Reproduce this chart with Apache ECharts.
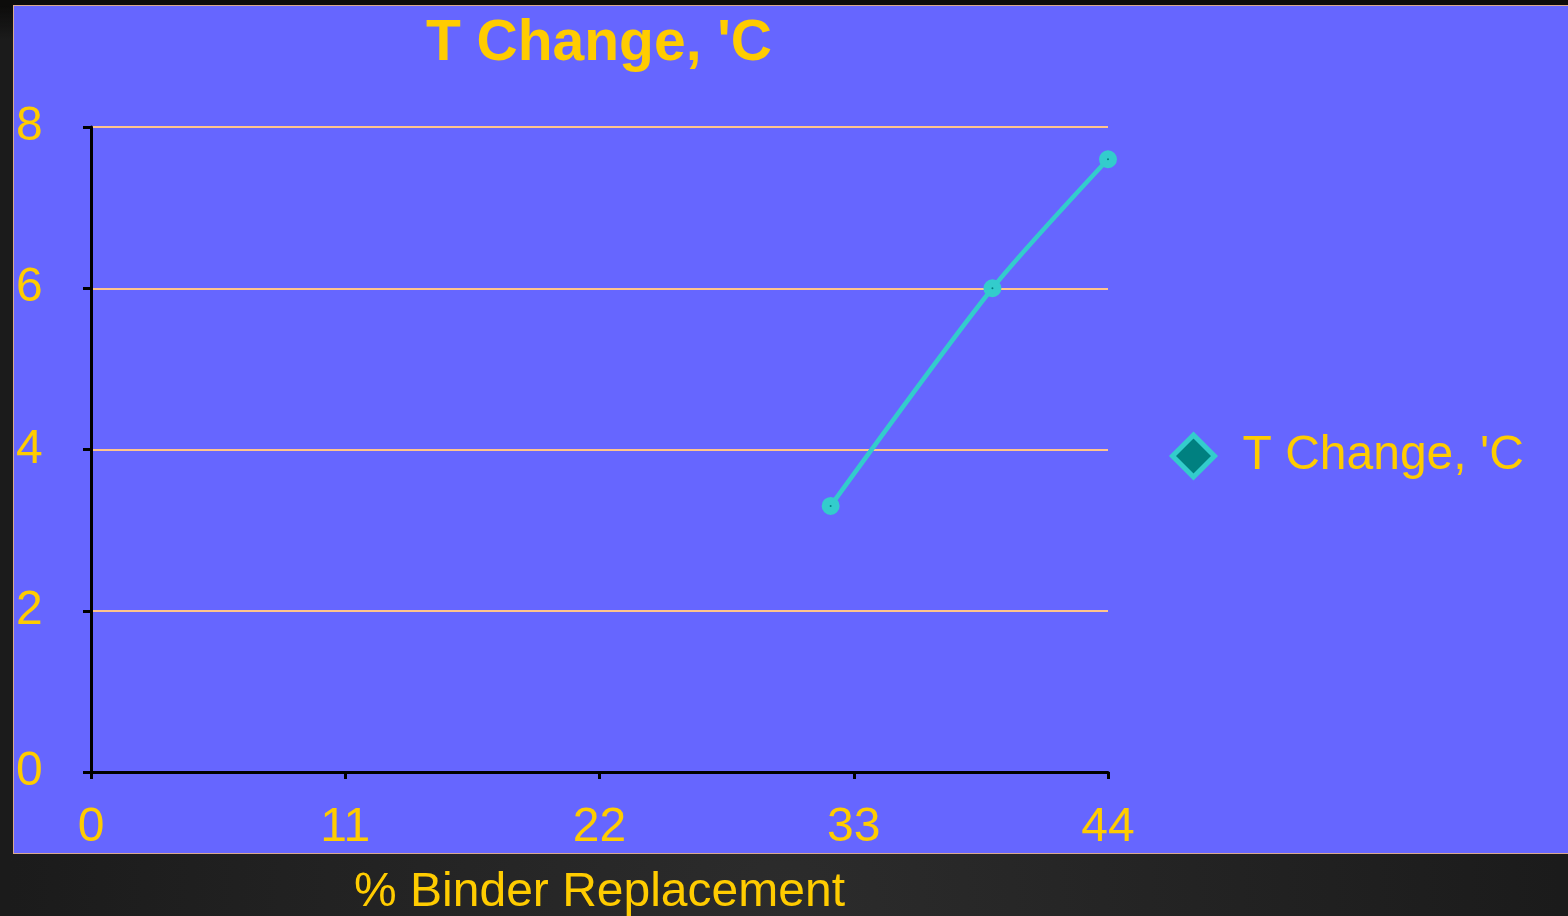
<!DOCTYPE html>
<html>
<head>
<meta charset="utf-8">
<title>T Change, 'C</title>
<script src="https://cdn.jsdelivr.net/npm/echarts@6/dist/echarts.min.js"></script>
<style>
  html, body { margin: 0; padding: 0; width: 1568px; height: 916px; overflow: hidden; }
  body {
    background-color: #1f1f1f;
    background-image:
      linear-gradient(180deg, #0d0c0b 0px, #0d0c0b 6px, rgba(0,0,0,0) 40px),
      radial-gradient(ellipse at 50% 100%, #2c2c2c 0%, #1b1b1b 70%);
  }
  #panel {
    position: absolute; left: 13px; top: 5px; width: 1560px; height: 849px;
    background: #6666ff; border: 1px solid #d9a98f; box-sizing: border-box;
  }
  #chart { position: absolute; left: 0; top: 0; width: 1568px; height: 916px; }
</style>
</head>
<body>
<div id="panel"></div>
<div id="chart"></div>
<script>
// Temperature change against binder replacement
const seriesName = "T Change, 'C";
const binderPct = [32, 39, 44];
const tChange = [3.3, 6.0, 7.6];
const xTicks = [0, 11, 22, 33, 44];
const yTicks = [0, 2, 4, 6, 8];

const font = '"Liberation Sans", Arial, sans-serif';
const yellow = '#ffcc00';

const chart = echarts.init(document.getElementById('chart'), null, { renderer: 'canvas' });
chart.setOption({
  backgroundColor: 'transparent',
  animation: false,
  title: {
    text: seriesName,
    left: 599, top: 16, textAlign: 'center', padding: 0,
    textStyle: { color: yellow, fontFamily: font, fontWeight: 'bold', fontSize: 57 }
  },
  legend: {
    left: 1170, top: 432, padding: 0,
    itemWidth: 42, itemHeight: 42,
    data: [{
      name: seriesName,
      icon: 'diamond',
      itemStyle: { color: '#008080', borderColor: '#33cccc', borderWidth: 5 }
    }],
    textStyle: { color: yellow, fontFamily: font, fontSize: 48, padding: [0, 0, 0, 23] }
  },
  grid: { left: 91, right: 460, top: 127, bottom: 144, containLabel: false, outerBoundsMode: 'none' },
  xAxis: {
    type: 'value',
    min: xTicks[0], max: xTicks[xTicks.length - 1], interval: xTicks[1] - xTicks[0],
    name: '% Binder Replacement',
    nameLocation: 'middle', nameGap: 97,
    nameTextStyle: { color: yellow, fontFamily: font, fontSize: 48 },
    axisLine: { show: true, lineStyle: { color: '#000', width: 3 } },
    axisTick: { show: true, length: 7, lineStyle: { color: '#000', width: 3 } },
    axisLabel: { color: yellow, fontFamily: font, fontSize: 48, margin: 32 },
    splitLine: { show: false }
  },
  yAxis: {
    type: 'value',
    min: yTicks[0], max: yTicks[yTicks.length - 1], interval: yTicks[1] - yTicks[0],
    axisLine: { show: true, lineStyle: { color: '#000', width: 3 } },
    axisTick: { show: true, length: 8, lineStyle: { color: '#000', width: 3 } },
    axisLabel: { color: yellow, fontFamily: font, fontSize: 48, margin: 75, align: 'left', padding: [6, 0, 0, 0] },
    splitLine: { show: true, lineStyle: { color: '#ffc48c', width: 2 } }
  },
  series: [{
    name: seriesName,
    type: 'line',
    data: binderPct.map((x, i) => [x, tChange[i]]),
    smooth: 0.25,
    symbol: 'circle',
    symbolSize: 10,
    lineStyle: { color: '#33cccc', width: 4.5 },
    itemStyle: { color: '#008080', borderColor: '#33cccc', borderWidth: 8 }
  }]
});
</script>
</body>
</html>
